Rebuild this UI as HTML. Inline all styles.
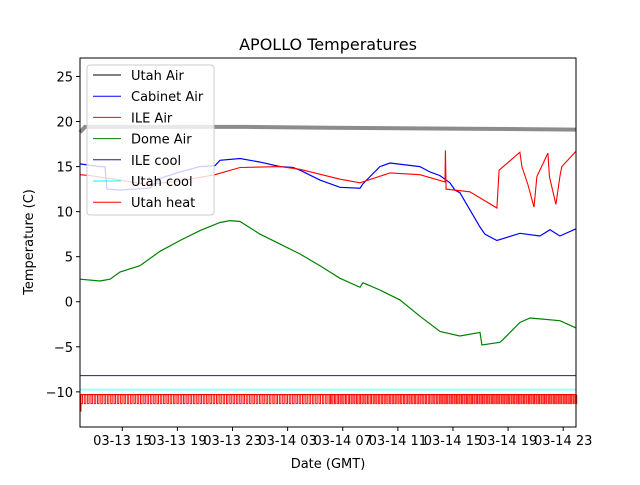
<!DOCTYPE html>
<html><head><meta charset="utf-8"><style>
body{margin:0;background:#fff}
svg text{font-family:"DejaVu Sans","Liberation Sans",sans-serif;fill:#000}
</style></head><body>
<svg id="chart" width="640" height="480" viewBox="0 0 640 480">
<rect x="0" y="0" width="640" height="480" fill="#fff"/>
<text x="328" y="50" font-size="16" text-anchor="middle">APOLLO Temperatures</text>
<g id="plot"></g>
<rect x="80" y="58" width="496" height="369" fill="none" stroke="#000" stroke-width="1"/>
<g id="axes"></g>
<text x="328" y="468" font-size="13" text-anchor="middle">Date (GMT)</text>
<text x="0" y="0" font-size="13" text-anchor="middle" transform="translate(33,242) rotate(-90)">Temperature (C)</text>
<g id="legend"></g>
</svg>
<script>
// hours since 03-13 00:00 GMT
const xTicks = [15, 19, 23, 27, 31, 35, 39, 43, 47];
const xTickLabels = ["03-13 15","03-13 19","03-13 23","03-14 03","03-14 07","03-14 11","03-14 15","03-14 19","03-14 23"];
const yTicks = [25, 20, 15, 10, 5, 0, -5, -10];
const yTickLabels = ["25","20","15","10","5","0","\u22125","\u221210"];
const utahAir = [[11.93,18.8],[12.29,19.4],[20,19.4],[24,19.4],[30,19.3],[40,19.2],[47.93,19.1]];
const cabinetAir = [[11.93,15.3],[13.38,15.0],[13.74,15.0],[13.89,12.5],[14.83,12.4],[17.01,12.6],[17.74,13.7],[19.19,14.4],[20.64,15.0],[21.73,15.1],[22.09,15.7],[23.54,15.9],[25,15.5],[26.45,15.0],[27.39,14.9],[27.9,14.6],[29.35,13.5],[30.8,12.7],[32.25,12.6],[32.47,13.1],[33.7,15.0],[34.43,15.4],[36.6,15.0],[37.33,14.4],[38.06,14.0],[38.78,13.2],[39.14,12.4],[39.5,12.1],[40.96,8.3],[41.32,7.5],[42.19,6.8],[43.86,7.6],[45.31,7.3],[46.04,8.0],[46.76,7.3],[47.93,8.1]];
const ileAir = [[11.93,14.1],[12.66,14.0],[14.83,13.5],[16.79,13.0],[19.19,13.4],[21.73,14.1],[23.54,14.9],[26.45,15.0],[27.9,14.7],[30.8,13.6],[32.25,13.2],[34.43,14.3],[36.6,14.1],[38.42,13.3],[38.45,16.8],[38.5,12.5],[40.23,12.2],[42.19,10.4],[42.35,14.6],[43.86,16.6],[44.0,15.0],[44.44,13.0],[44.88,10.5],[45.09,13.9],[45.89,16.5],[46.0,13.9],[46.47,10.8],[46.76,13.9],[46.9,15.0],[47.93,16.7]];
const domeAir = [[11.93,2.5],[13.38,2.3],[14.11,2.5],[14.83,3.3],[16.28,4.0],[17.74,5.6],[19.19,6.8],[20.64,7.9],[22.09,8.8],[22.82,9.0],[23.54,8.9],[25,7.5],[26.45,6.4],[27.9,5.3],[29.35,4.0],[30.07,3.3],[30.8,2.6],[32.25,1.6],[32.47,2.1],[33.7,1.3],[35.15,0.2],[36.6,-1.6],[38.06,-3.3],[39.5,-3.8],[40.96,-3.4],[41.1,-4.8],[42.41,-4.5],[42.63,-4.2],[43.86,-2.3],[44.59,-1.8],[45.31,-1.9],[46.76,-2.1],[47.93,-2.9]];
const ileCool = [[11.93,-8.2],[47.93,-8.2]];
const utahCool = [[11.93,-9.75],[47.93,-9.75]];
const utahHeatLevels = [-10.3, -11.3];
// heater cycle segments: [start hour, end hour, period hours]
const heatSegments = [[12.0,30.0,0.24],[30.0,38.0,0.2],[38.0,47.93,0.18]];

const X0=11.93, X1=47.93, Y0=-13.9, Y1=27.05;
const L=80,R=576,T=58,B=427;
function sx(h){return L+(h-X0)/(X1-X0)*(R-L);}
function sy(v){return B-(v-Y0)/(Y1-Y0)*(B-T);}
const NS="http://www.w3.org/2000/svg";
const plot=document.getElementById('plot');
const axes=document.getElementById('axes');
const legend=document.getElementById('legend');
function mk(tag,attrs,parent){const e=document.createElementNS(NS,tag);for(const k in attrs)e.setAttribute(k,attrs[k]);parent.appendChild(e);return e;}
function line(data,color,w,name,op){
  const p=mk('polyline',{points:data.map(d=>sx(d[0]).toFixed(1)+','+sy(d[1]).toFixed(1)).join(' '),fill:'none',stroke:color,'stroke-width':w,'stroke-opacity':op||1},plot);
  
  
}
line(utahAir,'#000',4,'utah-air-line',0.45);
line(domeAir,'green',1.2,'dome-air-line');
line(cabinetAir,'blue',1.2,'cabinet-air-line');
line(ileAir,'red',1.1,'ile-air-line');
line(ileCool,'#1f1f8f',1,'ile-cool-line');
line(utahCool,'cyan',2,'utah-cool-line',0.4);
// Utah heat pulses
const hg=mk('g',{},plot);


let d='';
const yt=sy(utahHeatLevels[0]), yb=sy(utahHeatLevels[1]);
heatSegments.forEach(s=>{for(let t=s[0];t<s[1];t+=s[2]){const a=sx(t),b=sx(t+s[2]*0.45);d+=`M${a.toFixed(1)},${yt.toFixed(1)}V${yb.toFixed(1)}H${b.toFixed(1)}V${yt.toFixed(1)}`;}});
mk('path',{d:d,fill:'none',stroke:'red','stroke-width':1,'stroke-opacity':0.9},hg);
mk('line',{x1:L,x2:R,y1:yt,y2:yt,stroke:'red','stroke-width':1.2},hg);
mk('line',{x1:sx(X0)+1,x2:sx(X0)+1,y1:yt,y2:sy(-12.2),stroke:'red','stroke-width':1},hg);
// ticks
xTicks.forEach((h,i)=>{
  const x=sx(h);
  mk('line',{x1:x,x2:x,y1:B,y2:B+4,stroke:'#000'},axes);
  const t=mk('text',{x:x,y:B+18,'font-size':13,'text-anchor':'middle'},axes);
  t.textContent=xTickLabels[i];
  
  
});
yTicks.forEach((v,i)=>{
  const y=sy(v);
  mk('line',{x1:L-4,x2:L,y1:y,y2:y,stroke:'#000'},axes);
  const t=mk('text',{x:L-7,y:y+5,'font-size':13,'text-anchor':'end'},axes);
  t.textContent=yTickLabels[i];
  
  
});
// legend
const lb=mk('rect',{x:87,y:65,width:127,height:150,rx:3,fill:'#fff','fill-opacity':0.8,stroke:'#ccc'},legend);


const entries=[["Utah Air","#000"],["Cabinet Air","blue"],["ILE Air","red"],["Dome Air","green"],["ILE cool","#1f1f8f"],["Utah cool","cyan"],["Utah heat","red"]];
entries.forEach((e,i)=>{
  const y=75+i*21.2;
  const g=mk('g',{},legend);
  
  
  mk('line',{x1:93,x2:121,y1:y,y2:y,stroke:e[1],'stroke-width':1},g);
  const t=mk('text',{x:131,y:y+5,'font-size':13},g);
  t.textContent=e[0];
});
</script>
</body></html>
